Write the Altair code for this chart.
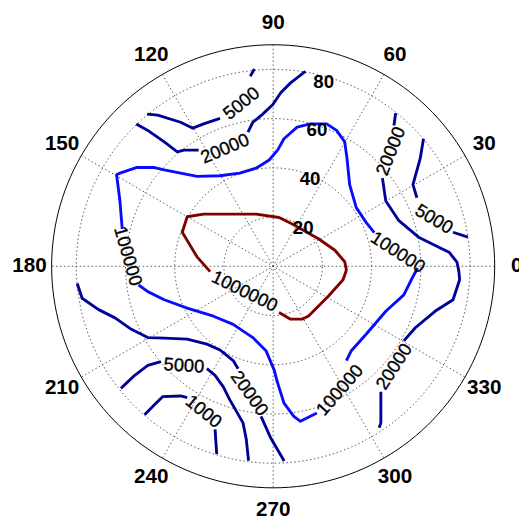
import altair as alt
import pandas as pd
import numpy as np

# ---------------- data (east / north in radial units, outer ring = 90) ----------------
LEVELS = ["1000", "5000", "20000", "100000", "1000000"]
LEVEL_COLORS = ["#00008c", "#000094", "#00009a", "#0a0aff", "#800000"]

RED_E = [-25.6, -30.92, -36.92, -34.92, -28.24, -6.92, 2.4, 7.76, 18.4, 25.08, 29.08, 29.76, 28.4, 22.4, 14.4, 11.76, 7.08, 2.4]
RED_N = [-2.16, 3.84, 13.84, 20.12, 21.2, 21.2, 19.84, 17.2, 11.2, 6.52, 1.84, -1.48, -5.48, -12.16, -20.16, -21.48, -21.48, -18.8]

C100K_A_E = [-61.32, -62.24, -63.6, -62.24, -55.6, -48.24, -44.24, -37.6, -30.92, -21.6, -13.6, -6.92, -1.6, 1.88, 4.4, 9.76, 15.08, 21.76, 25.76, 29.08, 30.0, 31.08, 33.76, 37.76, 41.08]
C100K_A_N = [15.2, 26.52, 37.2, 37.84, 40.12, 40.12, 39.2, 37.84, 36.52, 36.8, 37.84, 39.84, 43.2, 47.32, 51.84, 56.52, 57.84, 57.84, 55.2, 50.52, 43.84, 33.2, 23.84, 17.84, 13.72]
C100K_B_E = [58.68, 56.4, 53.08, 45.76, 37.76, 31.76, 29.76]
C100K_B_N = [-0.68, -4.96, -11.6, -18.28, -27.6, -34.28, -38.28]
C100K_C_E = [17.76, 11.08, 8.4, 4.4, 1.48, 0.48, -2.92, -8.24, -16.24, -24.24, -34.92, -44.24, -50.92, -54.64]
C100K_C_N = [-59.6, -62.96, -60.96, -55.6, -46.28, -42.28, -34.28, -28.96, -23.6, -20.28, -16.96, -13.6, -10.28, -7.6]

C20K_TL_A_E = [-55.6, -50.92, -44.24, -38.92, -36.24, -30.24]
C20K_TL_A_N = [57.84, 55.2, 50.52, 46.52, 47.2, 47.2]
C20K_TL_B_E = [-10.24, -8.24, -4.24, -0.12, 3.08, 7.08, 13.08]
C20K_TL_B_N = [54.52, 58.52, 61.84, 65.72, 70.52, 74.52, 79.2]

C5K_T_A_E = [-51.2, -46.92, -37.6, -32.64, -28.24, -21.6]
C5K_T_A_N = [61.84, 61.44, 58.52, 56.12, 57.84, 60.12]
C5K_T_B_E = [-9.32, -7.6]
C5K_T_B_N = [77.2, 80.12]

C20K_R_A_E = [49.76, 49.08]
C20K_R_A_N = [62.24, 57.2]
C20K_R_B_E = [44.4, 45.76, 51.08, 59.08, 67.08, 71.48, 74.68, 75.48, 75.76, 73.08, 65.76, 57.76, 53.08]
C20K_R_B_N = [35.84, 26.52, 18.52, 11.84, 7.84, 5.72, 1.72, -2.28, -5.48, -13.6, -18.28, -24.96, -30.28]
C20K_R_C_E = [43.76, 43.76, 43.08]
C20K_R_C_N = [-50.96, -63.6, -65.6]

C5K_R_A_E = [61.08, 59.76, 56.8, 58.4]
C5K_R_A_N = [51.84, 43.84, 33.2, 27.84]
C5K_R_B_E = [73.08, 79.08]
C5K_R_B_N = [13.84, 11.84]

C20K_BL_A_E = [-79.6, -77.6, -70.92, -64.24, -57.6, -50.92, -44.24, -34.92, -26.92, -21.6, -16.24, -14.24]
C20K_BL_A_N = [-6.96, -12.96, -17.6, -20.96, -25.6, -28.96, -29.2, -29.6, -31.6, -34.0, -38.28, -41.6]
C20K_BL_B_E = [-4.92, -0.92, 4.48]
C20K_BL_B_N = [-60.96, -69.88, -79.08]

C5K_BL_A_E = [-61.84, -56.24, -50.92, -45.6]
C5K_BL_A_N = [-49.6, -44.28, -40.28, -38.68]
C5K_BL_B_E = [-26.92, -23.6, -20.24, -17.6, -12.24, -10.92, -10.0]
C5K_BL_B_N = [-41.6, -44.28, -48.96, -54.28, -63.6, -70.28, -78.96]

C1K_A_E = [-52.24, -48.24, -44.92, -37.6, -34.92]
C1K_A_N = [-60.28, -56.28, -52.96, -52.68, -53.36]
C1K_B_E = [-23.6, -22.92]
C1K_B_N = [-66.28, -76.28]

SEGMENTS = [
    ("1000000", RED_E, RED_N),
    ("100000", C100K_A_E, C100K_A_N),
    ("100000", C100K_B_E, C100K_B_N),
    ("100000", C100K_C_E, C100K_C_N),
    ("20000", C20K_TL_A_E, C20K_TL_A_N),
    ("20000", C20K_TL_B_E, C20K_TL_B_N),
    ("5000", C5K_T_A_E, C5K_T_A_N),
    ("5000", C5K_T_B_E, C5K_T_B_N),
    ("20000", C20K_R_A_E, C20K_R_A_N),
    ("20000", C20K_R_B_E, C20K_R_B_N),
    ("20000", C20K_R_C_E, C20K_R_C_N),
    ("5000", C5K_R_A_E, C5K_R_A_N),
    ("5000", C5K_R_B_E, C5K_R_B_N),
    ("20000", C20K_BL_A_E, C20K_BL_A_N),
    ("20000", C20K_BL_B_E, C20K_BL_B_N),
    ("5000", C5K_BL_A_E, C5K_BL_A_N),
    ("5000", C5K_BL_B_E, C5K_BL_B_N),
    ("1000", C1K_A_E, C1K_A_N),
    ("1000", C1K_B_E, C1K_B_N),
]

LBL_TEXT = ["5000", "20000", "100000", "100000", "100000", "1000000", "20000", "5000", "20000", "20000", "5000", "1000"]
LBL_E = [-12.92, -19.6, -58.92, 50.68, 27.08, -11.6, 47.76, 65.36, 49.08, -9.6, -36.24, -28.24]
LBL_N = [66.24, 47.84, 4.12, 5.72, -50.28, -10.16, 46.8, 19.2, -40.68, -51.6, -40.28, -58.96]
LBL_ROT = [321, 337, 74, 33, 311, 26, 292, 31, 303, 54.5, 4, 39]

GRID_R = [20, 40, 60, 80]
OUTER_R = 90
RING_LABEL_ANGLE = 82
ANGLE_TICKS = [0, 30, 60, 90, 120, 150, 180, 210, 240, 270, 300, 330]
SPOKE_ANGLES = [0, 30, 60, 90, 120, 150]

# ---------------- tables ----------------
rows = []
for sid, (lev, es, ns) in enumerate(SEGMENTS):
    for i, (e, n) in enumerate(zip(es, ns)):
        rows.append({"seg": sid, "level": lev, "i": i, "x": e, "y": n})
contours = pd.DataFrame(rows)

ring_rows = []
for r in GRID_R + [OUTER_R]:
    for a in range(0, 361, 2):
        ring_rows.append({"r": r, "a": a, "outer": r == OUTER_R})
rings = pd.DataFrame(ring_rows)

labels = pd.DataFrame({"text": LBL_TEXT, "x": LBL_E, "y": LBL_N, "rot": LBL_ROT})
ring_lbl = pd.DataFrame({"r": GRID_R, "text": [str(r) for r in GRID_R]})
ang_lbl = pd.DataFrame({"a": ANGLE_TICKS, "text": [str(a) for a in ANGLE_TICKS]})
spokes = pd.DataFrame({"a": SPOKE_ANGLES})

# ---------------- scales ----------------
W, H = 519, 517
XS = alt.Scale(domain=[-107.72, 99.88], nice=False, zero=False)
YS = alt.Scale(domain=[-103.48, 103.32], nice=False, zero=False)
X = lambda f: alt.X(f, scale=XS, axis=None)
Y = lambda f: alt.Y(f, scale=YS, axis=None)

grid = alt.Chart(rings[~rings.outer]).transform_calculate(
    px="datum.r*cos(datum.a*PI/180)", py="datum.r*sin(datum.a*PI/180)"
).mark_line(color="#333333", strokeWidth=0.8, strokeDash=[1.5, 2.5]).encode(
    x=X("px:Q"), y=Y("py:Q"), detail="r:N", order="a:Q"
)

outer = alt.Chart(rings[rings.outer]).transform_calculate(
    px="datum.r*cos(datum.a*PI/180)", py="datum.r*sin(datum.a*PI/180)"
).mark_line(color="#000000", strokeWidth=1).encode(
    x=X("px:Q"), y=Y("py:Q"), order="a:Q"
)

spoke = alt.Chart(spokes).transform_calculate(
    px=f"{OUTER_R}*cos(datum.a*PI/180)", py=f"{OUTER_R}*sin(datum.a*PI/180)",
    px2=f"-{OUTER_R}*cos(datum.a*PI/180)", py2=f"-{OUTER_R}*sin(datum.a*PI/180)",
).mark_rule(color="#333333", strokeWidth=0.8, strokeDash=[1.5, 2.5]).encode(
    x=X("px:Q"), y=Y("py:Q"), x2="px2:Q", y2="py2:Q"
)

lines = alt.Chart(contours).mark_line(strokeWidth=2.9, strokeJoin="round").encode(
    x=X("x:Q"), y=Y("y:Q"), detail="seg:N", order="i:Q",
    color=alt.Color("level:N", scale=alt.Scale(domain=LEVELS, range=LEVEL_COLORS), legend=None),
)

clabels = alt.Chart(labels).mark_text(
    font="Liberation Sans", fontSize=18.5, color="#000000", align="center", baseline="middle",
    stroke="#000000", strokeWidth=0.35
).encode(x=X("x:Q"), y=Y("y:Q"), text="text:N", angle=alt.Angle("rot:Q", scale=None))

rlabels = alt.Chart(ring_lbl).transform_calculate(
    px=f"datum.r*cos({RING_LABEL_ANGLE}*PI/180)", py=f"datum.r*sin({RING_LABEL_ANGLE}*PI/180)"
).mark_text(
    font="Liberation Sans", fontSize=19, fontWeight="bold", color="#000000",
    align="left", baseline="middle", dx=13, dy=10.5
).encode(x=X("px:Q"), y=Y("py:Q"), text="text:N")

alabels = alt.Chart(ang_lbl).transform_calculate(
    px=f"{1.1*OUTER_R}*cos(datum.a*PI/180)", py=f"{1.1*OUTER_R}*sin(datum.a*PI/180)"
).mark_text(
    font="Liberation Sans", fontSize=21, fontWeight="bold", color="#000000",
    align="center", baseline="middle"
).encode(x=X("px:Q"), y=Y("py:Q"), text="text:N")

chart = alt.layer(grid, spoke, outer, lines, clabels, rlabels, alabels).properties(
    width=W, height=H, padding=0,
    autosize=alt.AutoSizeParams(type="none"),
    background="white",
).configure_view(stroke=None)

chart.save("out.html", embed_options={"renderer": "svg", "actions": False})
